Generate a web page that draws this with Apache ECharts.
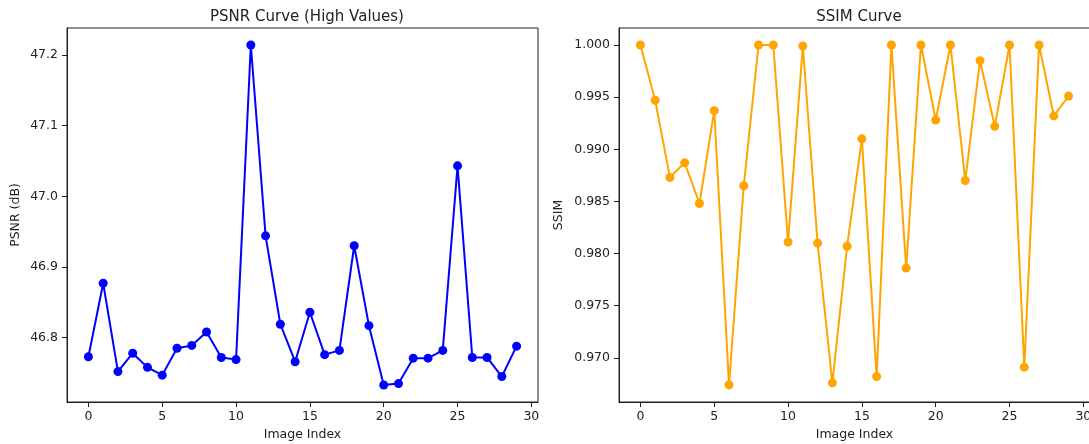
<!DOCTYPE html>
<html>
<head>
<meta charset="utf-8">
<script src="https://cdn.jsdelivr.net/npm/echarts@6/dist/echarts.min.js"></script>
<style>
  html, body { margin: 0; padding: 0; background: #fff; }
  #chart { width: 1089px; height: 444px; }
</style>
</head>
<body>
<div id="chart"></div>
<script>
// image index 0..29
const imageIndex = Array.from({ length: 30 }, (_, i) => i)

const psnrValues = [
  46.773, 46.877, 46.752, 46.778, 46.758, 46.747, 46.785, 46.789, 46.808, 46.772,
  46.769, 47.214, 46.944, 46.819, 46.766, 46.836, 46.776, 46.782, 46.930, 46.817,
  46.733, 46.735, 46.771, 46.771, 46.782, 47.043, 46.772, 46.772, 46.745, 46.788
]

const ssimValues = [
  1.0000, 0.9947, 0.9873, 0.9887, 0.9848, 0.9937, 0.9674, 0.9865, 1.0000, 1.0000,
  0.9811, 0.9999, 0.9810, 0.9676, 0.9807, 0.9910, 0.9682, 1.0000, 0.9786, 1.0000,
  0.9928, 1.0000, 0.9870, 0.9985, 0.9922, 1.0000, 0.9691, 1.0000, 0.9932, 0.9951
]

const xTicks = [0, 5, 10, 15, 20, 25, 30]
const psnrTicks = [46.8, 46.9, 47.0, 47.1, 47.2]
const ssimTicks = [0.970, 0.975, 0.980, 0.985, 0.990, 0.995, 1.000]

const font = 'DejaVu Sans'
const ink = '#222'

function xAxisFor(gridIndex) {
  return {
    type: 'value',
    gridIndex: gridIndex,
    min: -1.45,
    max: 30.45,
    name: 'Image Index',
    nameLocation: 'middle',
    nameGap: 26,
    nameTextStyle: { fontFamily: font, fontSize: 12.5, color: ink },
    axisLine: { onZero: false, lineStyle: { color: ink, width: 1 } },
    axisTick: { customValues: xTicks, length: 5, lineStyle: { color: ink } },
    axisLabel: {
      customValues: xTicks,
      margin: 8,
      fontFamily: font,
      fontSize: 12.5,
      color: ink
    },
    splitLine: { show: false }
  }
}

function yAxisFor(gridIndex, name, min, max, ticks, digits, gap) {
  return {
    type: 'value',
    gridIndex: gridIndex,
    min: min,
    max: max,
    name: name,
    nameLocation: 'middle',
    nameGap: gap,
    nameTextStyle: { fontFamily: font, fontSize: 12.5, color: ink },
    axisLine: { show: true, onZero: false, lineStyle: { color: ink, width: 1 } },
    axisTick: { show: true, customValues: ticks, length: 5, lineStyle: { color: ink } },
    axisLabel: {
      customValues: ticks,
      margin: 9,
      fontFamily: font,
      fontSize: 12.5,
      color: ink,
      formatter: v => v.toFixed(digits)
    },
    splitLine: { show: false }
  }
}

const chart = echarts.init(document.getElementById('chart'))
chart.setOption({
  animation: false,
  backgroundColor: '#fff',
  title: [
    {
      text: 'PSNR Curve (High Values)',
      left: 302,
      textAlign: 'center',
      top: 5,
      textStyle: { fontFamily: font, fontSize: 15, fontWeight: 'normal', color: ink }
    },
    {
      text: 'SSIM Curve',
      left: 854,
      textAlign: 'center',
      top: 5,
      textStyle: { fontFamily: font, fontSize: 15, fontWeight: 'normal', color: ink }
    }
  ],
  grid: [
    { left: 67, top: 28, width: 471, height: 374, show: true, borderColor: ink, borderWidth: 1, outerBoundsMode: 'none' },
    { left: 619, top: 28, width: 471, height: 374, show: true, borderColor: ink, borderWidth: 1, outerBoundsMode: 'none' }
  ],
  xAxis: [xAxisFor(0), xAxisFor(1)],
  yAxis: [
    yAxisFor(0, 'PSNR (dB)', 46.709, 47.238, psnrTicks, 1, 45),
    yAxisFor(1, 'SSIM', 0.96576, 1.00163, ssimTicks, 3, 54)
  ],
  series: [
    {
      type: 'line',
      xAxisIndex: 0,
      yAxisIndex: 0,
      data: imageIndex.map((x, i) => [x, psnrValues[i]]),
      symbol: 'circle',
      symbolSize: 9,
      lineStyle: { color: '#0000ff', width: 2 },
      itemStyle: { color: '#0000ff' }
    },
    {
      type: 'line',
      xAxisIndex: 1,
      yAxisIndex: 1,
      data: imageIndex.map((x, i) => [x, ssimValues[i]]),
      symbol: 'circle',
      symbolSize: 9,
      lineStyle: { color: '#ffa500', width: 2 },
      itemStyle: { color: '#ffa500' }
    }
  ]
})
</script>
</body>
</html>
